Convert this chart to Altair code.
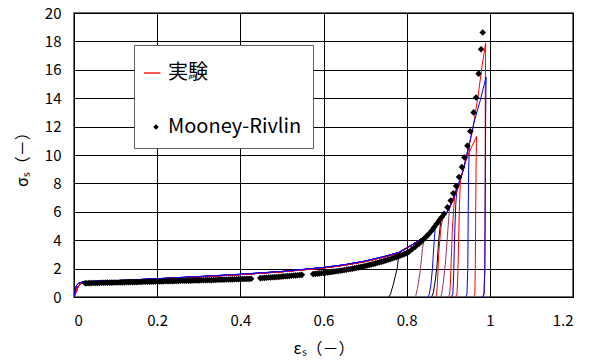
import altair as alt
import pandas as pd

# ---------------- data ----------------
# experimental loading branches (red family and blue family)
red_load_eps = [0, 0.005, 0.01, 0.015, 0.02, 0.03, 0.05, 0.1, 0.2, 0.3, 0.4, 0.5, 0.6, 0.65, 0.7, 0.75,
                0.78, 0.8, 0.82, 0.84, 0.86, 0.88, 0.9, 0.92, 0.93, 0.94, 0.957, 0.971, 0.982, 0.99]
red_load_sig = [0, 0.35, 0.75, 0.93, 1.0, 1.04, 1.07, 1.13, 1.27, 1.42, 1.58, 1.78, 2.05, 2.24, 2.5, 2.85,
                3.1, 3.45, 3.8, 4.2, 4.7, 5.3, 6.1, 7.4, 8.3, 9.4, 11.5, 14.0, 16.4, 17.9]
blue_load_eps = [0, 0.003, 0.006, 0.01, 0.02, 0.03, 0.05, 0.1, 0.2, 0.3, 0.4, 0.5, 0.6, 0.65, 0.7, 0.75,
                 0.78, 0.8, 0.82, 0.84, 0.86, 0.88, 0.9, 0.91, 0.925, 0.937, 0.949, 0.963, 0.977, 0.991]
blue_load_sig = [0, 0.5, 0.8, 0.95, 1.05, 1.08, 1.1, 1.15, 1.29, 1.44, 1.6, 1.8, 2.08, 2.27, 2.53, 2.88,
                 3.13, 3.45, 3.8, 4.2, 4.7, 5.3, 6.1, 6.8, 8.0, 9.0, 10.6, 12.4, 13.85, 15.5]

# individual experimental curves: colour, loading branch, cut strain, then peak + unloading points
curve_colors = ["#000000", "#993366", "#0000FF", "#000000", "#FF0000", "#993366", "#FF0000",
                "#0000FF", "#FF0000", "#0000FF", "#FF0000", "#FF0000", "#0000FF"]
curve_branch = ["red", "red", "blue", "red", "red", "red", "red",
                "blue", "red", "blue", "red", "red", "blue"]
curve_cut = [0.781, 0.842, 0.868, 0.881, 0.886, 0.902, 0.914,
             0.920, 0.928, 0.950, 0.945, 1.0, 1.0]
curve_tail_eps = [
    [0.782, 0.777, 0.768, 0.761, 0.757],
    [0.843, 0.838, 0.833, 0.826, 0.822, 0.819],
    [0.869, 0.866, 0.862, 0.858, 0.854, 0.851],
    [0.882, 0.877, 0.873, 0.869, 0.864, 0.860],
    [0.887, 0.882, 0.877, 0.874, 0.872, 0.869],
    [0.903, 0.898, 0.893, 0.888, 0.884, 0.881],
    [0.915, 0.910, 0.907, 0.905, 0.903, 0.898],
    [0.921, 0.918, 0.915, 0.913, 0.911, 0.907],
    [0.929, 0.927, 0.925, 0.923, 0.921, 0.918],
    [0.951, 0.949, 0.948, 0.947, 0.945, 0.942],
    [0.952, 0.968, 0.967, 0.966, 0.965, 0.964, 0.961],
    [0.989, 0.989, 0.988, 0.986, 0.983],
    [0.990, 0.989, 0.988, 0.986, 0.982],
]
curve_tail_sig = [
    [3.12, 2.0, 0.9, 0.2, 0],
    [4.25, 3.4, 1.9, 0.6, 0.1, 0],
    [5.0, 3.9, 2.0, 0.8, 0.15, 0],
    [5.35, 4.0, 2.2, 1.2, 0.3, 0],
    [5.6, 4.8, 3.0, 1.0, 0.15, 0],
    [6.2, 4.3, 2.3, 1.0, 0.2, 0],
    [7.0, 4.8, 2.5, 0.8, 0.15, 0],
    [7.7, 6.5, 4.0, 1.5, 0.2, 0],
    [8.1, 6.5, 4.0, 1.5, 0.2, 0],
    [10.8, 9.0, 6.0, 2.0, 0.2, 0],
    [10.3, 11.3, 9.5, 6.0, 2.0, 0.2, 0],
    [14.0, 8.0, 2.0, 0.2, 0],
    [13.0, 8.0, 2.0, 0.2, 0],
]

# Mooney-Rivlin model points (markers are packed densely at low strain)
mr_eps = [0.027, 0.031, 0.036, 0.041, 0.046, 0.051, 0.056, 0.061, 0.066, 0.071, 0.076, 0.081, 0.086,
          0.091, 0.096, 0.101, 0.106, 0.111, 0.116, 0.121, 0.126, 0.131, 0.136, 0.141, 0.146, 0.151,
          0.156, 0.161, 0.166, 0.171, 0.176, 0.181, 0.186, 0.191, 0.196, 0.201, 0.206, 0.211, 0.216,
          0.221, 0.226, 0.231, 0.236, 0.241, 0.246, 0.251, 0.256, 0.261, 0.266, 0.271, 0.276, 0.281,
          0.286, 0.291, 0.296, 0.301, 0.306, 0.311, 0.316, 0.321, 0.326, 0.331, 0.336, 0.341, 0.346,
          0.351, 0.356, 0.361, 0.366, 0.371, 0.376, 0.381, 0.386, 0.391, 0.396, 0.401, 0.406, 0.411,
          0.416, 0.421, 0.426,
          0.448, 0.453, 0.458, 0.463, 0.468, 0.473, 0.478, 0.483, 0.488, 0.493, 0.498, 0.503, 0.508,
          0.513, 0.518, 0.523, 0.528, 0.533, 0.538, 0.543, 0.548,
          0.575, 0.580, 0.585, 0.590, 0.595, 0.600, 0.605, 0.610, 0.615, 0.620, 0.625, 0.630, 0.635,
          0.640, 0.645, 0.650, 0.655, 0.660, 0.665, 0.670, 0.675, 0.680, 0.685, 0.690, 0.695, 0.700,
          0.705, 0.710, 0.715, 0.720, 0.725, 0.730, 0.735, 0.740, 0.745, 0.750, 0.755, 0.760, 0.765,
          0.770, 0.775, 0.780, 0.785, 0.790, 0.795, 0.800, 0.805,
          0.813, 0.821, 0.829, 0.835, 0.841, 0.847, 0.853, 0.860, 0.866, 0.872, 0.878, 0.884, 0.890,
          0.898, 0.906, 0.912, 0.919, 0.926, 0.933, 0.939, 0.946, 0.953, 0.961, 0.967, 0.973, 0.979,
          0.983]
mr_sig = [0.97, 0.97, 0.98, 0.98, 0.99, 0.99, 0.99, 0.99, 1.00, 1.00, 1.01, 1.01, 1.01,
          1.01, 1.02, 1.02, 1.02, 1.03, 1.03, 1.03, 1.04, 1.04, 1.05, 1.05, 1.05, 1.05,
          1.06, 1.06, 1.07, 1.07, 1.08, 1.08, 1.08, 1.08, 1.09, 1.09, 1.10, 1.10, 1.11,
          1.11, 1.11, 1.11, 1.12, 1.12, 1.13, 1.13, 1.14, 1.14, 1.14, 1.14, 1.15, 1.15,
          1.16, 1.16, 1.17, 1.17, 1.18, 1.18, 1.19, 1.19, 1.19, 1.19, 1.20, 1.20, 1.21,
          1.21, 1.22, 1.22, 1.23, 1.23, 1.24, 1.24, 1.25, 1.25, 1.26, 1.26, 1.27, 1.27,
          1.28, 1.28, 1.29,
          1.33, 1.34, 1.35, 1.36, 1.37, 1.38, 1.39, 1.40, 1.41, 1.42, 1.43, 1.45, 1.46,
          1.47, 1.48, 1.50, 1.51, 1.52, 1.53, 1.55, 1.56,
          1.62, 1.63, 1.65, 1.66, 1.68, 1.69, 1.71, 1.73, 1.75, 1.77, 1.79, 1.81, 1.83,
          1.85, 1.87, 1.90, 1.92, 1.95, 1.97, 2.00, 2.03, 2.06, 2.09, 2.12, 2.15, 2.18,
          2.22, 2.25, 2.29, 2.33, 2.37, 2.41, 2.45, 2.49, 2.53, 2.57, 2.62, 2.66, 2.71,
          2.76, 2.81, 2.86, 2.92, 2.98, 3.04, 3.10, 3.17,
          3.37, 3.55, 3.73, 3.90, 4.08, 4.25, 4.43, 4.67, 4.91, 5.14, 5.38, 5.61, 5.85,
          6.32, 6.79, 7.31, 7.81, 8.45, 9.15, 9.82, 10.66, 11.67, 13.0, 14.05, 15.73, 17.45,
          18.63]

legend_labels = ["実験", "Mooney-Rivlin"]
legend_colors = ["#FF0000", "#000000"]
x_ticks = [0, 0.2, 0.4, 0.6, 0.8, 1.0, 1.2]
y_ticks = [0, 2, 4, 6, 8, 10, 12, 14, 16, 18, 20]

# ---------------- build tables ----------------
branches = {"red": (red_load_eps, red_load_sig), "blue": (blue_load_eps, blue_load_sig)}
rows = []
for k in range(len(curve_colors)):
    be, bs = branches[curve_branch[k]]
    pts = [(e, s) for e, s in zip(be, bs) if e < curve_cut[k]]
    pts += list(zip(curve_tail_eps[k], curve_tail_sig[k]))
    for i, (e, s) in enumerate(pts):
        rows.append({"curve": f"c{k:02d}", "col": curve_colors[k], "i": i, "eps": e, "sig": s})
exp_df = pd.DataFrame(rows)
mr_df = pd.DataFrame({"eps": mr_eps, "sig": mr_sig, "series": "Mooney-Rivlin"})

FONT = "Noto Sans CJK JP"

xscale = alt.Scale(domain=[0, 1.2], nice=False, zero=False)
yscale = alt.Scale(domain=[0, 20], nice=False, zero=False)

xaxis = alt.Axis(values=x_ticks, format="~g", title="εₛ（－）", grid=True, ticks=False,
                 labelOverlap=False, labelPadding=16, titleX=249.5, titleY=51, titleAlign="center",
                 titleBaseline="middle", titleAngle=0)
yaxis = alt.Axis(values=y_ticks, format="~g", title="σₛ（－）", grid=True, ticks=False,
                 labelOverlap=False, labelPadding=13, titleX=-52, titleY=142, titleAlign="center",
                 titleBaseline="middle", titleAngle=270)

lines = alt.Chart(exp_df).mark_line(strokeWidth=1, clip=True).encode(
    x=alt.X("eps:Q", scale=xscale, axis=xaxis),
    y=alt.Y("sig:Q", scale=yscale, axis=yaxis),
    color=alt.Color("col:N", scale=None),
    detail="curve:N",
    order="i:Q",
)

# legend symbols: a thin filled bar for the lines, a small diamond for the markers
line_sym = "M-1.1,-0.06H0.4V0.06H-1.1Z"
diamond_sym = "M0,-0.25L0.25,0L0,0.25L-0.25,0Z"
leg = alt.Legend(title=" ", orient="none", legendX=60, legendY=32, symbolStrokeWidth=0)

points = alt.Chart(mr_df).mark_point(filled=True, size=700, opacity=1, strokeWidth=0).encode(
    x=alt.X("eps:Q", scale=xscale, axis=xaxis),
    y=alt.Y("sig:Q", scale=yscale, axis=yaxis),
    shape=alt.Shape("series:N", scale=alt.Scale(domain=legend_labels, range=[line_sym, diamond_sym]),
                    legend=leg),
    fill=alt.Fill("series:N", scale=alt.Scale(domain=legend_labels, range=legend_colors), legend=leg),
)

chart = alt.layer(lines, points).properties(
    width=499, height=284,
    autosize=alt.AutoSizeParams(type="none"),
    padding={"left": 74, "top": 13, "right": 17, "bottom": 64},
    background="white",
).configure_view(
    stroke="#404040", strokeWidth=1.5
).configure_axis(
    gridColor="#000000", gridWidth=1, gridOpacity=1,
    domainColor="#000000", domainWidth=1,
    labelFont=FONT, labelFontSize=15, labelColor="#000000",
    titleFont=FONT, titleFontSize=16, titleColor="#000000", titleFontWeight="normal",
).configure_legend(
    padding=11, rowPadding=33, symbolSize=484,
    labelFont=FONT, labelFontSize=20, labelColor="#000000", labelOffset=1,
    titleFontSize=6, titlePadding=0,
    fillColor="#FFFFFF", strokeColor="#606060",
)

chart.save("out.html", embed_options={"renderer": "svg", "actions": False})
